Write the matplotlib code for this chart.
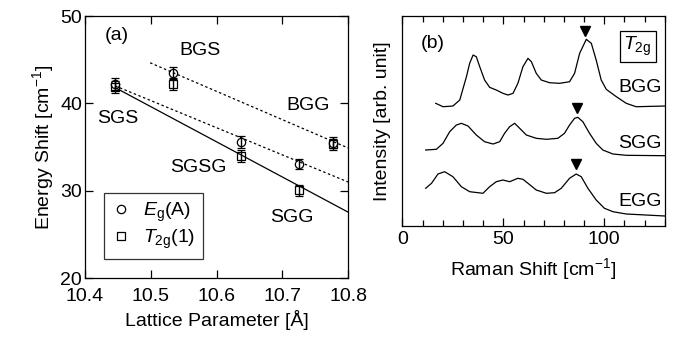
import numpy as np
import matplotlib
matplotlib.use("Agg")
import matplotlib.pyplot as plt
from matplotlib.ticker import MultipleLocator
from matplotlib.lines import Line2D

plt.rcParams['font.family'] = ['Liberation Sans', 'DejaVu Sans']
plt.rcParams['mathtext.fontset'] = 'custom'
plt.rcParams['mathtext.rm'] = 'Liberation Sans'
plt.rcParams['mathtext.it'] = 'Liberation Sans:italic'

# (a) energy shift vs lattice parameter
samples = ['SGS', 'BGS', 'SGSG', 'SGG', 'BGG']
lattice = [10.446, 10.534, 10.637, 10.725, 10.777]
eg_shift = [42.2, 43.5, 35.6, 33.05, 35.5]
t2g_shift = [41.9, 42.2, 34.0, 30.05, 35.3]
shift_err = [0.7, 0.7, 0.7, 0.6, 0.6]

# fit lines (end points)
fit_solid_x = [10.446, 10.8]
fit_solid_y = [41.8, 27.55]
fit_dot1_x = [10.446, 10.8]
fit_dot1_y = [42.0, 31.0]
fit_dot2_x = [10.499, 10.8]
fit_dot2_y = [44.65, 34.9]

# (b) Raman spectra (arb. unit)
bgg_x = [16.5, 20.1, 25, 28.4, 31.7, 33.3, 35, 36.6, 38.3, 40.7, 43.2, 46.5, 49.8,
         52.3, 54.8, 57.2, 59.7, 62.2, 63.9, 66.3, 68.8, 72.9, 77.9, 82.8, 85.3,
         87.8, 91.1, 93.6, 96.0, 98.5, 101, 106, 110.9, 115.8, 130]
bgg_y = [122.7, 119.3, 120, 126, 149.3, 162.7, 171, 169.3, 159.3, 146, 138.7, 136,
         132.7, 131, 132.7, 142.7, 159.3, 167.7, 164.3, 152.7, 146, 143.3, 142.7,
         144.3, 152.7, 172.7, 186.7, 182.7, 166, 146, 136.7, 129.3, 122.7, 119.3, 120]
sgg_x = [11.5, 16.8, 20.1, 23.4, 26.7, 29.2, 32.5, 36.6, 40.7, 44.9, 48.2, 50.6,
         53.1, 55.6, 58.1, 61.4, 66.3, 71.3, 77, 80.3, 82.8, 85.3, 86.9, 89.4,
         92.7, 96, 99.3, 104.3, 110.9, 130]
sgg_y = [76, 76.7, 82.7, 94.3, 101, 102.7, 100, 91, 84.3, 82, 84.3, 92.7, 99.3,
         102.7, 97.7, 91, 87.7, 86.7, 87.7, 92.7, 101, 107.7, 108.7, 104.3, 92.7,
         82.7, 76, 72, 70.7, 70.3]
egg_x = [11.5, 14.4, 17.6, 20.9, 25, 29.2, 33.3, 39.9, 43.2, 46.5, 49.8, 53.1,
         57.2, 59.7, 62.2, 66.3, 71.3, 75.4, 78.7, 82.8, 86.1, 88.6, 91.9, 96,
         100.1, 104.3, 110.9, 130]
egg_y = [37.7, 42.7, 52, 54.3, 49.3, 39.3, 34.3, 32.7, 39.3, 44.3, 46, 44.3, 47.7,
         46.7, 42.7, 36, 32.7, 33.3, 37.7, 47.7, 52, 49.3, 37.7, 26, 17.7, 14.3,
         12, 10]
peak_x = [90.7, 86.4, 86.1]
peak_y = [195, 117.7, 62]
spec_names = ['BGG', 'SGG', 'EGG']
spec_label_y = [138.7, 82.7, 24.3]

fs = 14

fig = plt.figure(figsize=(6.73, 3.37), dpi=100)
ax1 = fig.add_axes([0.1263, 0.175, 0.3908, 0.7774])
ax2 = fig.add_axes([0.598, 0.3294, 0.3898, 0.623])

ax1.plot(fit_solid_x, fit_solid_y, '-', color='black', lw=0.9)
ax1.plot(fit_dot1_x, fit_dot1_y, color='black', lw=0.9, ls=(0, (2, 2)))
ax1.plot(fit_dot2_x, fit_dot2_y, color='black', lw=0.9, ls=(0, (2, 2)))
ax1.errorbar(lattice, eg_shift, yerr=shift_err, fmt='o', mfc='none', mec='black',
             ms=6, mew=0.9, ecolor='black', elinewidth=1.0, capsize=3)
ax1.errorbar(lattice, t2g_shift, yerr=shift_err, fmt='s', mfc='none', mec='black',
             ms=5.5, mew=0.9, ecolor='black', elinewidth=1.0, capsize=3)

ax1.set_xlim(10.4, 10.8)
ax1.set_ylim(20, 50)
ax1.xaxis.set_major_locator(MultipleLocator(0.1))
ax1.yaxis.set_major_locator(MultipleLocator(10))
ax1.tick_params(direction='in', top=True, right=True, labelsize=fs, length=6, width=0.9)
ax1.tick_params(axis='y', pad=2)
ax1.tick_params(axis='x', pad=7)
ax1.set_xlabel('Lattice Parameter [Å]', fontsize=fs, labelpad=4)
ax1.set_ylabel('Energy Shift [cm$^{-1}$]', fontsize=fs, labelpad=3)

ann_pos = {'SGS': (10.45, 38.3), 'BGS': (10.575, 46.1), 'SGSG': (10.572, 32.6),
           'SGG': (10.715, 26.9), 'BGG': (10.739, 39.7)}
for name in samples:
    ax1.text(ann_pos[name][0], ann_pos[name][1], name, fontsize=fs, ha='center', va='center')
ax1.text(10.43, 47.8, '(a)', fontsize=fs, ha='left', va='center')

handles = [Line2D([], [], ls='none', marker='o', mfc='none', mec='black', ms=6, mew=0.9),
           Line2D([], [], ls='none', marker='s', mfc='none', mec='black', ms=5.5, mew=0.9)]
leg = ax1.legend(handles, ['$E_\\mathrm{g}$(A)', '$T_\\mathrm{2g}$(1)'],
                 loc='lower left', bbox_to_anchor=(0.072, 0.073), borderaxespad=0,
                 fontsize=fs, frameon=True, fancybox=False, edgecolor='black',
                 handlelength=1.0, handletextpad=0.6, borderpad=0.4, labelspacing=0.2)
leg.get_frame().set_linewidth(0.9)

for sp in ax1.spines.values():
    sp.set_linewidth(0.9)

# panel (b)
ax2.plot(bgg_x, bgg_y, color='black', lw=0.9)
ax2.plot(sgg_x, sgg_y, color='black', lw=0.9)
ax2.plot(egg_x, egg_y, color='black', lw=0.9)
ax2.plot(peak_x, peak_y, 'v', color='black', ms=6.5)
for name, ly in zip(spec_names, spec_label_y):
    ax2.text(128.5, ly, name, fontsize=fs, ha='right', va='center')
ax2.text(15.2, 182.7, '(b)', fontsize=fs, ha='center', va='center')
ax2.text(116.5, 180, '$T_\\mathrm{2g}$', fontsize=fs, ha='center', va='center',
         bbox=dict(boxstyle='square,pad=0.2', fc='white', ec='black', lw=0.9))

ax2.set_xlim(0, 130)
ax2.set_ylim(0, 210)
ax2.xaxis.set_major_locator(MultipleLocator(50))
ax2.xaxis.set_minor_locator(MultipleLocator(10))
ax2.set_yticks([])
ax2.tick_params(axis='x', which='both', direction='in', top=True, labelsize=fs, width=0.9, pad=3.5)
ax2.tick_params(axis='x', which='major', length=6)
ax2.tick_params(axis='x', which='minor', length=4)
ax2.set_xlabel('Raman Shift [cm$^{-1}$]', fontsize=fs, labelpad=6)
ax2.set_ylabel('Intensity [arb. unit]', fontsize=fs, labelpad=8)
for sp in ax2.spines.values():
    sp.set_linewidth(0.9)

fig.savefig('out.png', dpi=100)
